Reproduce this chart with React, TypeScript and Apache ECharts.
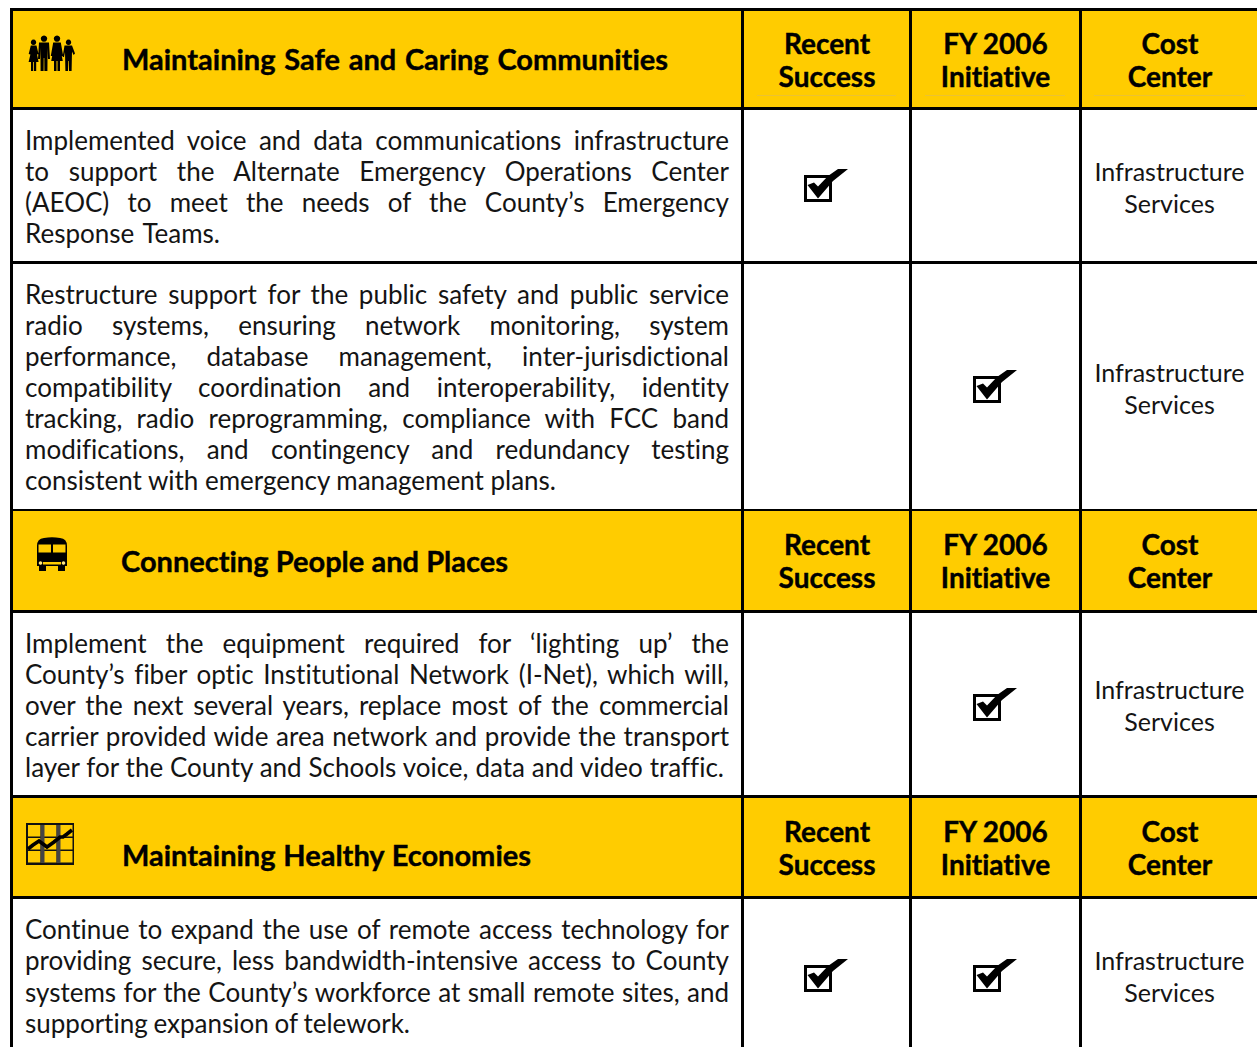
import React, { useEffect, useRef } from "react";
import * as echarts from "echarts";

const BODY_FONT = "Lato";
const columnHeaders = [["Recent", "Success"], ["FY 2006", "Initiative"], ["Cost", "Center"]];
const sectionTitles = ["Maintaining Safe and Caring Communities", "Connecting People and Places", "Maintaining Healthy Economies"];
const costCenter = ["Infrastructure", "Services"];
const row1Lines = [
  "Implemented voice and data communications infrastructure",
  "to support the Alternate Emergency Operations Center",
  "(AEOC) to meet the needs of the County’s Emergency",
  "Response Teams.",
];
const row2Lines = [
  "Restructure support for the public safety and public service",
  "radio systems, ensuring network monitoring, system",
  "performance, database management, inter-jurisdictional",
  "compatibility coordination and interoperability, identity",
  "tracking, radio reprogramming, compliance with FCC band",
  "modifications, and contingency and redundancy testing",
  "consistent with emergency management plans.",
];
const row3Lines = [
  "Implement the equipment required for ‘lighting up’ the",
  "County’s fiber optic Institutional Network (I-Net), which will,",
  "over the next several years, replace most of the commercial",
  "carrier provided wide area network and provide the transport",
  "layer for the County and Schools voice, data and video traffic.",
];
const row4Lines = [
  "Continue to expand the use of remote access technology for",
  "providing secure, less bandwidth-intensive access to County",
  "systems for the County’s workforce at small remote sites, and",
  "supporting expansion of telework.",
];
const recentSuccess = [true, false, false, true];
const fy2006Initiative = [false, true, true, true];

const YELLOW = "#FFCC00";
const INK = "#141414";

const FAMILY =
  "M4.5 10 a2.7 2.7 0 1 1 0.01 0 Z M1.8 10.5 L7.5 10.5 L9.5 19 L8 19.5 L9.6 27 L7.2 27 L7.2 36 L5 36 L5 27 L4.2 27 L4.2 36 L2 36 L2 27 L-0.4 27 L1.4 19.5 L-0.3 19 Z " +
  "M15 6.8 a3.2 3.2 0 1 1 0.01 0 Z M10 7.5 L20 7.5 L21 24 L19 24 L18.6 13 L18.4 36 L15.4 36 L15.3 23 L14.7 23 L14.6 36 L11.6 36 L11.4 13 L11 24 L9 24 Z " +
  "M28 6.8 a3.2 3.2 0 1 1 0.01 0 Z M24.2 7.5 L31.8 7.5 L34.2 21 L32.5 21 L31.4 14 L33.8 26 L31 26 L31 36 L28.5 36 L28.5 26 L27.5 26 L27.5 36 L25 36 L25 26 L22.2 26 L24.6 14 L23.5 21 L21.8 21 Z " +
  "M39.5 10 a2.7 2.7 0 1 1 0.01 0 Z M35.5 10.5 L43 10.5 L46 18.5 L44.6 20 L43 16.5 L42.6 36 L40 36 L39.8 26 L39.2 26 L39 36 L36.4 36 L36 17 L35 22 L33.6 22 Z";
const BUS =
  "M0 9 Q0 1.5 7 1 Q15 -0.5 23 1 Q30 1.5 30 9 L30 29 L28 29 L28 34 L21 34 L21 29 L9 29 L9 34 L2 34 L2 29 L0 29 Z " +
  "M1.5 7.5 L1.5 15.5 L14 15.5 L14 7.5 Z M16 7.5 L16 15.5 L28.5 15.5 L28.5 7.5 Z M6 25 L6 27.5 L24 27.5 L24 25 Z";

echarts.graphic.registerShape("familyIcon", echarts.graphic.extendPath(FAMILY, {}) as any);
echarts.graphic.registerShape("busIcon", echarts.graphic.extendPath(BUS, {}) as any);

function lineEls(lines: string[], y0: number, step: number, out: any[]) {
  lines.forEach((t, i) => {
    out.push({
      type: "text", x: 25, y: y0 + i * step,
      style: { text: t, font: `26px ${BODY_FONT}`, fill: INK, align: "left", verticalAlign: "middle" },
    });
  });
}

export default function App() {
  const ref = useRef<HTMLDivElement>(null);
  useEffect(() => {
    const chart = echarts.init(ref.current!, null, { renderer: "svg", width: 1257, height: 1047 });
    const els: any[] = [];
    const rect = (x: number, y: number, w: number, h: number, fill: string) =>
      els.push({ type: "rect", shape: { x, y, width: w, height: h }, style: { fill } });
    const poly = (pts: number[][], stroke: string, lw: number) =>
      els.push({ type: "polyline", shape: { points: pts }, style: { stroke, lineWidth: lw, fill: "none" } });

    // header bands
    const bands = [[11, 96], [511, 99], [798, 98]];
    bands.forEach(([y, h]) => rect(13, y, 1244, h, YELLOW));
    // pale rule under column headers
    [[757, 139], [925, 140], [1094, 151]].forEach(([x, w]) => rect(x, 95, w, 1, "#EBC232"));
    // rules
    [[8, 3], [107, 3], [261, 3], [509, 2], [610, 3], [795, 3], [896, 3]].forEach(([y, h]) => rect(10, y, 1247, h, "#000"));
    [[10, 3], [741, 3], [909, 3], [1079, 3]].forEach(([x, w]) => rect(x, 8, w, 1039, "#000"));

    // column headers and section titles
    const titleY = [58, 560, 854];
    const titleX = [122, 121, 122];
    const headerY = [43, 544, 831];
    const columnCx = [827, 995.5, 1170];
    const heavy = { fill: "#000", stroke: "#000", lineWidth: 0.4 };
    sectionTitles.forEach((t, i) => {
      els.push({ type: "text", x: titleX[i], y: titleY[i], style: { text: t, font: `bold 29px ${BODY_FONT}`, ...heavy, align: "left", verticalAlign: "middle" } });
      columnHeaders.forEach((pair, c) =>
        pair.forEach((w, k) =>
          els.push({ type: "text", x: columnCx[c], y: headerY[i] + k * 33, style: { text: w, font: `bold 28px ${BODY_FONT}`, ...heavy, align: "center", verticalAlign: "middle" } })));
    });

    // body text
    lineEls(row1Lines, 140, 31, els);
    lineEls(row2Lines, 294, 31.05, els);
    lineEls(row3Lines, 643, 31, els);
    lineEls(row4Lines, 929, 31.3, els);

    // cost center
    [171, 372, 689, 960].forEach((y) =>
      costCenter.forEach((w, k) =>
        els.push({ type: "text", x: 1169.5, y: y + k * 31.6, style: { text: w, font: `25px ${BODY_FONT}`, fill: INK, align: "center", verticalAlign: "middle" } })));

    // check boxes
    const checkY = [175, 376, 694, 965];
    const drawCheck = (x: number, y: number) => {
      els.push({ type: "rect", shape: { x: x + 1.5, y: y + 1.5, width: 25, height: 24 }, style: { fill: "none", stroke: "#000", lineWidth: 3 } });
      els.push({ type: "polygon", shape: { points: [[x + 3.5, y + 10], [x + 10, y + 7.5], [x + 14, y + 11.5], [x + 24, y + 1], [x + 34, y - 6], [x + 44, y - 6], [x + 29, y + 6], [x + 14, y + 23.5]] }, style: { fill: "#000" } });
    };
    checkY.forEach((y, r) => {
      if (recentSuccess[r]) drawCheck(804, y);
      if (fy2006Initiative[r]) drawCheck(973, y);
    });

    // family icon
    els.push({ type: "familyIcon", x: 29, y: 35, style: { fill: "#000" } });
    // bus icon
    els.push({ type: "busIcon", x: 37, y: 537, style: { fill: "#000", fillRule: "evenodd" } });
    els.push({ type: "circle", shape: { cx: 40.5, cy: 563, r: 1.8 }, style: { fill: "#FFE680" } });
    els.push({ type: "circle", shape: { cx: 63.5, cy: 563, r: 1.8 }, style: { fill: "#FFE680" } });
    // chart icon
    rect(26, 823, 48, 42, "#111");
    [[28, 825], [44, 825], [60, 825], [28, 838], [44, 838], [60, 838], [28, 851], [44, 851], [60, 851]].forEach(([x, y]) => rect(x, y, 12.5, 11.5, YELLOW));
    [42, 58].forEach((x) => rect(x - 1.5, 825, 4, 38, "#444"));
    poly([[28, 849], [33, 845], [39, 841], [43, 844], [47, 847], [54, 842], [60, 837], [63, 837], [67, 834], [72, 830]], "#000", 3.6);

    chart.setOption({ animation: false, backgroundColor: "#fff", graphic: { elements: els } });

    // Word-spacing on each rendered line up to its measured right edge.
    const lineWidths = new Map<string, number>();
    [...row1Lines, ...row2Lines, ...row3Lines, ...row4Lines].forEach((t) => lineWidths.set(t, 704));
    lineWidths.set(row1Lines[3], 195);
    lineWidths.set(row2Lines[6], 531);
    lineWidths.set(row3Lines[4], 699);
    lineWidths.set(row4Lines[3], 385);
    lineWidths.set(sectionTitles[0], 546);
    lineWidths.set(sectionTitles[1], 387);
    lineWidths.set(sectionTitles[2], 409);
    const apply = () => {
      ref.current?.querySelectorAll("text").forEach((node: any) => {
        node.style.fontVariantLigatures = "none";
        const t = node.textContent || "";
        const target = lineWidths.get(t);
        if (target === undefined) return;
        node.style.wordSpacing = "0px";
        const gaps = t.split(" ").length - 1;
        node.style.wordSpacing = `${(target - node.getComputedTextLength()) / gaps}px`;
      });
    };
    apply();
    const r = requestAnimationFrame(apply);
    return () => { cancelAnimationFrame(r); chart.dispose(); };
  }, []);
  return <div ref={ref} style={{ position: "absolute", left: 0, top: 0, width: 1257, height: 1047 }} />;
}
